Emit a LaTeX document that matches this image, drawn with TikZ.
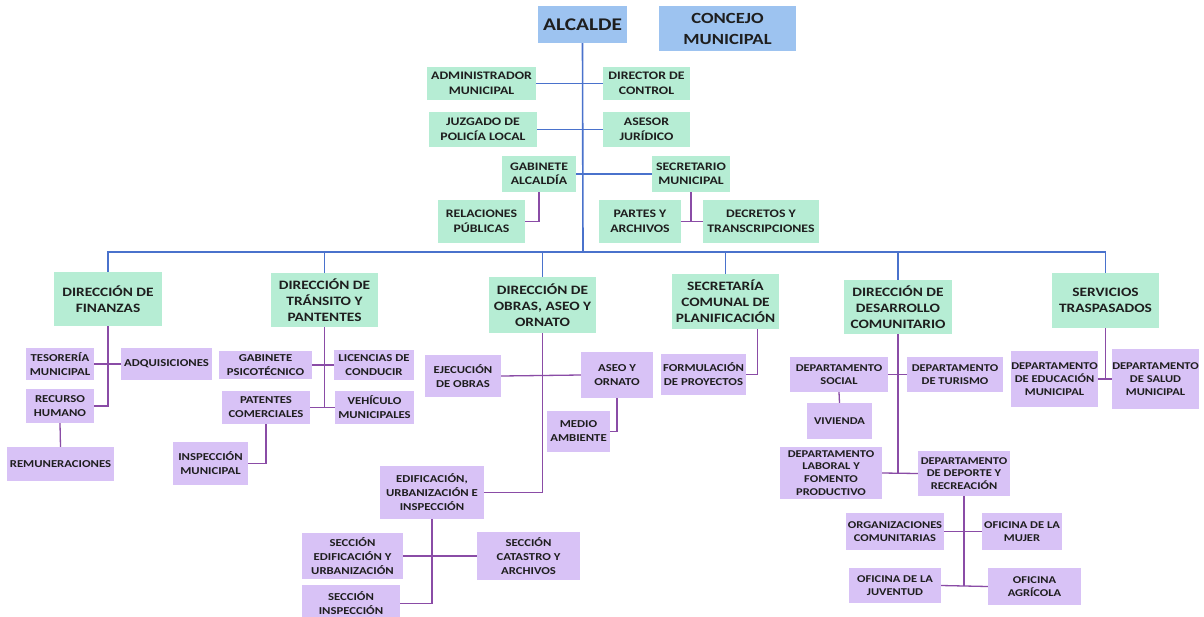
\documentclass[tikz,border=0pt]{standalone}
\usepackage{fontspec}
\setmainfont{Carlito}[FakeStretch=1.2]
\definecolor{bluebox}{HTML}{9DC3F0}
\definecolor{greenbox}{HTML}{B6EDD4}
\definecolor{purplebox}{HTML}{D8C2F6}
\definecolor{blueline}{HTML}{4A72CC}
\definecolor{purpleline}{HTML}{8A4CA6}
\definecolor{txt}{HTML}{1E1E1E}
\newcommand{\orgbox}[7]{\node[#2, minimum width=#5pt, minimum height=#6pt] (#1) at (#3,#4) {#7};}
\begin{document}
\begin{tikzpicture}[x=1pt,y=-1pt,
  base/.style={inner sep=0pt, align=center, text=txt, font=\bfseries},
  top/.style={base, fill=bluebox, font=\bfseries\fontsize{17.8}{21}\selectfont},
  gA/.style={base, fill=greenbox, font=\bfseries\fontsize{11.5}{14.5}\selectfont},
  gB/.style={base, fill=greenbox, font=\bfseries\fontsize{12.8}{16}\selectfont},
  pA/.style={base, fill=purplebox, font=\bfseries\fontsize{10.6}{14}\selectfont},
  pB/.style={base, fill=purplebox, font=\bfseries\fontsize{10.4}{12.8}\selectfont},
  bl/.style={draw=blueline, line width=1.6pt},
  pl/.style={draw=purpleline, line width=1.3pt}]
\useasboundingbox (0,0) rectangle (1204,616);
\clip (0,0) rectangle (1204,616);
\fill[white] (0,0) rectangle (1204,616);

% top level
\orgbox{alc}{top}{582.5}{24.5}{89}{37}{ALCALDE}
\orgbox{con}{top}{727.5}{28.5}{137}{45}{\fontsize{15.5}{18}\selectfont CONCEJO\\ \fontsize{15.5}{18}\selectfont MUNICIPAL}

% staff
\orgbox{adm}{gA}{481.5}{83.5}{109}{33}{ADMINISTRADOR\\MUNICIPAL}
\orgbox{dir}{gA}{646.5}{83.5}{87}{33}{DIRECTOR DE\\CONTROL}
\orgbox{juz}{gA}{483}{129.5}{108}{35}{JUZGADO DE\\POLICÍA LOCAL}
\orgbox{asr}{gA}{646.5}{129.5}{87}{35}{ASESOR\\JURÍDICO}
\orgbox{gab}{gA}{539}{174}{74}{36}{GABINETE\\ALCALDÍA}
\orgbox{sec}{gA}{691}{174}{78}{36}{SECRETARIO\\MUNICIPAL}
\orgbox{rel}{gA}{481.5}{221.5}{87}{43}{RELACIONES\\PÚBLICAS}
\orgbox{par}{gA}{640}{221.5}{82}{43}{PARTES Y\\ARCHIVOS}
\orgbox{dec}{gA}{761}{221.5}{116}{43}{DECRETOS Y\\TRANSCRIPCIONES}

% directions
\orgbox{fin}{gB}{108}{299}{108}{54}{DIRECCIÓN DE\\FINANZAS}
\orgbox{tra}{gB}{324.5}{300}{107}{54}{DIRECCIÓN DE\\TRÁNSITO Y\\PANTENTES}
\orgbox{obr}{gB}{542.5}{305}{107}{56}{DIRECCIÓN DE\\OBRAS, ASEO Y\\ORNATO}
\orgbox{sco}{gB}{725.5}{301.5}{107}{55}{SECRETARÍA\\COMUNAL DE\\PLANIFICACIÓN}
\orgbox{des}{gB}{898}{307}{108}{54}{DIRECCIÓN DE\\DESARROLLO\\COMUNITARIO}
\orgbox{serv}{gB}{1105.5}{300.5}{107}{55}{SERVICIOS\\TRASPASADOS}

% finanzas
\orgbox{tes}{pA}{60}{364}{68}{32}{TESORERÍA\\MUNICIPAL}
\orgbox{adq}{pA}{166.5}{364}{91}{32}{ADQUISICIONES}
\orgbox{rec}{pA}{60}{406}{68}{34}{RECURSO\\HUMANO}
\orgbox{rem}{pA}{60.5}{464}{107}{34}{REMUNERACIONES}

% transito
\orgbox{gps}{pA}{265.5}{365}{93}{28}{GABINETE\\PSICOTÉCNICO}
\orgbox{lic}{pA}{374}{365}{80}{30}{LICENCIAS DE\\CONDUCIR}
\orgbox{pat}{pA}{266}{407.5}{88}{33}{PATENTES\\COMERCIALES}
\orgbox{veh}{pA}{374.5}{407.5}{79}{33}{VEHÍCULO\\MUNICIPALES}
\orgbox{ins}{pA}{210.5}{463.5}{75}{43}{INSPECCIÓN\\MUNICIPAL}

% obras
\orgbox{eje}{pA}{463}{376}{76}{42}{EJECUCIÓN\\DE OBRAS}
\orgbox{aso}{pA}{617}{375}{72}{46}{ASEO Y\\ORNATO}
\orgbox{med}{pA}{578.5}{431.5}{63}{41}{MEDIO\\AMBIENTE}
\orgbox{edi}{pA}{432}{492.5}{104}{53}{EDIFICACIÓN,\\URBANIZACIÓN E\\INSPECCIÓN}
\orgbox{sed}{pA}{352.5}{556}{101}{46}{SECCIÓN\\EDIFICACIÓN Y\\URBANIZACIÓN}
\orgbox{cat}{pA}{528.5}{556}{103}{48}{SECCIÓN\\CATASTRO Y\\ARCHIVOS}
\orgbox{sin}{pA}{351}{603.5}{98}{37}{SECCIÓN\\INSPECCIÓN}

% planificacion
\orgbox{for}{pA}{703.5}{374.5}{85}{41}{FORMULACIÓN\\DE PROYECTOS}

% desarrollo
\orgbox{dsoc}{pB}{839}{374.5}{98}{35}{DEPARTAMENTO\\SOCIAL}
\orgbox{dtur}{pB}{955}{374.5}{96}{35}{DEPARTAMENTO\\DE TURISMO}
\orgbox{viv}{pB}{839.5}{421}{65}{36}{VIVIENDA}
\orgbox{dlab}{pB}{831}{473}{102}{52}{DEPARTAMENTO\\LABORAL Y\\FOMENTO\\PRODUCTIVO}
\orgbox{ddep}{pB}{964}{473.5}{92}{45}{DEPARTAMENTO\\DE DEPORTE Y\\RECREACIÓN}
\orgbox{org}{pB}{895}{531.5}{98}{37}{ORGANIZACIONES\\COMUNITARIAS}
\orgbox{muj}{pB}{1022}{531.5}{80}{37}{OFICINA DE LA\\MUJER}
\orgbox{juv}{pB}{895}{585.5}{92}{35}{OFICINA DE LA\\JUVENTUD}
\orgbox{agr}{pB}{1034.5}{586.5}{93}{37}{OFICINA\\AGRÍCOLA}

% servicios
\orgbox{edu}{pB}{1054.5}{379}{85}{56}{DEPARTAMENTO\\DE EDUCACIÓN\\MUNICIPAL}
\orgbox{sal}{pB}{1155.5}{379}{85}{60}{DEPARTAMENTO\\DE SALUD\\MUNICIPAL}

% blue connectors
\coordinate (bus) at (583,252);
\draw[bl] (alc.south) -- (bus);
\draw[bl] (fin.north) |- (bus) -| (serv.north);
\draw[bl] (tra.north) -- (tra.north |- bus);
\draw[bl] (obr.north) -- (obr.north |- bus);
\draw[bl] (sco.north) -- (sco.north |- bus);
\draw[bl] (des.north) -- (des.north |- bus);
\draw[bl] (adm.east) -- (dir.west);
\draw[bl] (juz.east) -- (asr.west);
\draw[bl] (gab.east) -- (sec.west);

% purple connectors
\draw[pl] (gab.south) |- (rel.east);
\draw[pl] (sec.south) -- (sec.south |- par.east);
\draw[pl] (par.east) -- (dec.west);

\draw[pl] (fin.south) |- (rec.east);
\draw[pl] (tes.east) -- (adq.west);
\draw[pl] (rec.south) -- (rem.north);

\draw[pl] (tra.south) -- (tra.south |- pat.east);
\draw[pl] (gps.east) -- (lic.west);
\draw[pl] (pat.east) -- (veh.west);
\draw[pl] (pat.south) |- (ins.east);

\draw[pl] (obr.south) |- (edi.east);
\draw[pl] (eje.east) -- (aso.west);
\draw[pl] (aso.south) |- (med.east);
\draw[pl] (edi.south) |- (sin.east);
\draw[pl] (sed.east) -- (cat.west);

\draw[pl] ([xshift=-22pt]sco.south east) |- (for.east);

\draw[pl] (des.south) -- (des.south |- dlab.east);
\draw[pl] (dsoc.east) -- (dtur.west);
\draw[pl] (dsoc.south) -- (viv.north);
\draw[pl] (dlab.east) -- (ddep.west);
\draw[pl] (ddep.south) -- (ddep.south |- juv.east);
\draw[pl] (org.east) -- (muj.west);
\draw[pl] (juv.east) -- (agr.west);

\draw[pl] (serv.south) -- (serv.south |- edu.east);
\draw[pl] (edu.east) -- (sal.west);
\end{tikzpicture}
\end{document}
